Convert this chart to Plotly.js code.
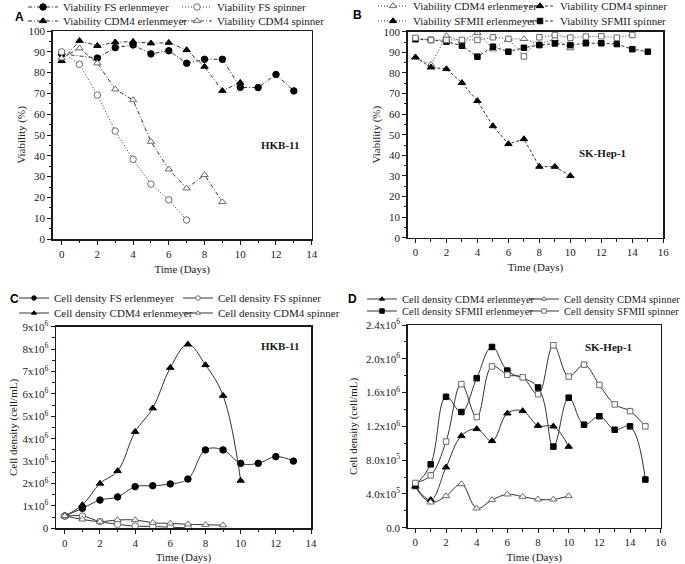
<!DOCTYPE html>
<html><head><meta charset="utf-8">
<script src="https://cdn.plot.ly/plotly-3.0.1.min.js"></script>
<style>body{margin:0;background:#fff}</style>
</head><body><div id="chart" style="width:685px;height:564px"></div>
<script>
// ---------- Panel A: viability HKB-11 ----------
const daysA_FSerl   = [0,2,3,4,5,6,7,8,9,10,11,12,13];
const vA_FSerl      = [89,87,92,93.3,89,90.5,84.5,86.4,86.4,72.9,72.8,79.1,71.2];
const daysA_FSspin  = [0,1,2,3,4,5,6,7];
const vA_FSspin     = [90,84,69.2,51.9,38.3,26.4,18.8,9.1];
const daysA_CDMerl  = [0,1,2,3,4,5,6,7,8,9,10];
const vA_CDMerl     = [85.6,95.3,92.9,94.6,94.9,94.1,94.4,90.9,82.9,71.3,75.2];
const daysA_CDMspin = [0,1,2,3,4,5,6,7,8,9];
const vA_CDMspin    = [86.9,91.7,84.5,72,66.8,46.8,33.5,24.4,30.8,17.8];

// ---------- Panel B: viability SK-Hep-1 ----------
const daysB_CDMerl  = [0,1,2,3,4,5,6,7,8,9,10];
const vB_CDMerl     = [87.5,84,98,95.5,99.5,91.5,96.5,96.5,94,96.5,92];
const daysB_CDMspin = [0,1,2,3,4,5,6,7,8,9,10];
const vB_CDMspin    = [87.6,82.7,81.9,75.2,66.4,54.2,45.5,47.9,34.5,34.5,30.0];
const daysB_SFerl   = [0,1,2,3,4,5,6,7,8,9,10,11,12,13,14];
const vB_SFerl      = [97,96,96,96,96,97.3,96.5,88,97.3,98.4,97.1,97.6,97.8,97.1,98.4];
const daysB_SFspin  = [0,1,2,3,4,5,6,7,8,9,10,11,12,13,14,15];
const vB_SFspin     = [96.3,96,95.2,93.2,87.9,92.7,90.3,92.2,93.5,94.3,93.5,94.4,94.4,94.0,91.5,90.3];

// ---------- Panel C: cell density HKB-11 (cells/mL) ----------
const daysC_FSerl   = [0,1,2,3,4,5,6,7,8,9,10,11,12,13];
const cC_FSerl      = [550000,890000,1260000,1400000,1860000,1900000,1980000,2200000,3500000,3500000,2900000,2900000,3200000,3000000];
const daysC_FSspin  = [0,1,2,3,4,5,6,7];
const cC_FSspin     = [550000,550000,300000,180000,100000,80000,50000,20000];
const daysC_CDMerl  = [0,1,2,3,4,5,6,7,8,9,10];
const cC_CDMerl     = [550000,1040000,2000000,2560000,4310000,5360000,7170000,8210000,7290000,5920000,2130000];
const daysC_CDMspin = [0,1,2,3,4,5,6,7,8,9];
const cC_CDMspin    = [550000,400000,300000,370000,370000,250000,220000,180000,160000,140000];

// ---------- Panel D: cell density SK-Hep-1 (cells/mL) ----------
const daysD_CDMerl  = [0,1,2,3,4,5,6,7,8,9,10];
const cD_CDMerl     = [490000,330000,715000,1086000,1169000,1027000,1354000,1382000,1208000,1200000,960000];
const daysD_CDMspin = [0,1,2,3,4,5,6,7,8,9,10];
const cD_CDMspin    = [480000,300000,375000,517000,230000,328000,395000,367000,336000,336000,375000];
const daysD_SFerl   = [0,1,2,3,4,5,6,8,9,10,11,12,13,14,15];
const cD_SFerl      = [500000,750000,1550000,1370000,1770000,2140000,1860000,1660000,960000,1540000,1220000,1320000,1160000,1200000,570000];
const daysD_SFspin  = [0,1,2,3,4,5,6,7,8,9,10,11,12,13,14,15];
const cD_SFspin     = [530000,620000,1020000,1700000,1310000,1910000,1810000,1780000,1580000,2160000,1790000,1930000,1690000,1460000,1380000,1200000];

// tick labels
const tickC_vals = [0,1e6,2e6,3e6,4e6,5e6,6e6,7e6,8e6,9e6];
const tickC_text = ['0','1x10<sup>6</sup>','2x10<sup>6</sup>','3x10<sup>6</sup>','4x10<sup>6</sup>','5x10<sup>6</sup>','6x10<sup>6</sup>','7x10<sup>6</sup>','8x10<sup>6</sup>','9x10<sup>6</sup>'];
const tickD_vals = [0,4e5,8e5,1.2e6,1.6e6,2.0e6,2.4e6];
const tickD_text = ['0.0','4.0x10<sup>5</sup>','8.0x10<sup>5</sup>','1.2x10<sup>6</sup>','1.6x10<sup>6</sup>','2.0x10<sup>6</sup>','2.4x10<sup>6</sup>'];

const W = 685, H = 564;
const serif = "'Liberation Serif', 'Times New Roman', serif";
const ink = '#1a1a1a';
function F(size, color) { return {family: serif, size: size || 11, color: color || ink}; }

function tr(x, y, n, name, sym, filled, dash, legend, spline, msize) {
  const s = n > 1 ? String(n) : '';
  return {
    x: x, y: y, xaxis: 'x' + s, yaxis: 'y' + s,
    name: name, legend: legend, mode: 'lines+markers', hoverinfo: 'skip',
    line: {color: '#333', width: 1, dash: dash, shape: spline ? 'spline' : 'linear', smoothing: 1.1},
    marker: {symbol: sym, size: msize || (sym === 'square' ? 5.5 : 6.5), color: filled ? '#000' : '#fff',
             line: {color: filled ? '#000' : '#6a6a6a', width: 1}}
  };
}
// data trace with its legend entry drawn by a separate legend-only trace
function dataOnly(t) { t.showlegend = false; return t; }
function legOnly(n, name, sym, filled, dash, legend) {
  return tr([null], [null], n, name, sym, filled, dash, legend, false, 4.5);
}
const DASH = '3px,2px', DOT = '1px,2px', DASHDOT = '4px,2px,1px,2px';

const data = [
  tr(daysA_FSerl, vA_FSerl, 1, 'Viability FS erlenmeyer', 'circle', true, DASHDOT, 'legend'),
  tr(daysA_FSspin, vA_FSspin, 1, 'Viability FS spinner', 'circle', false, DOT, 'legend2'),
  tr(daysA_CDMerl, vA_CDMerl, 1, 'Viability CDM4 erlenmeyer', 'triangle-up', true, DASHDOT, 'legend3'),
  tr(daysA_CDMspin, vA_CDMspin, 1, 'Viability CDM4 spinner', 'triangle-up', false, DASHDOT, 'legend4'),

  tr(daysB_CDMerl, vB_CDMerl, 2, 'Viability CDM4 erlenmeyer', 'triangle-up', false, DOT, 'legend5'),
  tr(daysB_CDMspin, vB_CDMspin, 2, 'Viability CDM4 spinner', 'triangle-up', true, DASH, 'legend6'),
  tr([null], [null], 2, 'Viability SFMII erlenmeyer', 'triangle-up', true, DOT, 'legend7'),
  tr(daysB_SFspin, vB_SFspin, 2, 'Viability SFMII spinner', 'square', true, DASH, 'legend8'),
  dataOnly(tr(daysB_SFerl, vB_SFerl, 2, 'Viability SFMII erlenmeyer', 'square', false, DOT, 'legend7')),

  dataOnly(tr(daysC_FSerl, cC_FSerl, 3, 'Cell density FS erlenmeyer', 'circle', true, 'solid', 'legend9', true)),
  dataOnly(tr(daysC_FSspin, cC_FSspin, 3, 'Cell density FS spinner', 'circle', false, 'solid', 'legend10', true)),
  dataOnly(tr(daysC_CDMerl, cC_CDMerl, 3, 'Cell density CDM4 erlenmeyer', 'triangle-up', true, 'solid', 'legend11', true)),
  dataOnly(tr(daysC_CDMspin, cC_CDMspin, 3, 'Cell density CDM4 spinner', 'triangle-up', false, 'solid', 'legend12', true)),
  legOnly(3, 'Cell density FS erlenmeyer', 'circle', true, 'solid', 'legend9'),
  legOnly(3, 'Cell density FS spinner', 'circle', false, 'solid', 'legend10'),
  legOnly(3, 'Cell density CDM4 erlenmeyer', 'triangle-up', true, 'solid', 'legend11'),
  legOnly(3, 'Cell density CDM4 spinner', 'triangle-up', false, 'solid', 'legend12'),

  dataOnly(tr(daysD_CDMerl, cD_CDMerl, 4, 'Cell density CDM4 erlenmeyer', 'triangle-up', true, 'solid', 'legend13', true)),
  dataOnly(tr(daysD_CDMspin, cD_CDMspin, 4, 'Cell density CDM4 spinner', 'triangle-up', false, 'solid', 'legend14', true)),
  dataOnly(tr(daysD_SFerl, cD_SFerl, 4, 'Cell density SFMII erlenmeyer', 'square', true, 'solid', 'legend15', true)),
  dataOnly(tr(daysD_SFspin, cD_SFspin, 4, 'Cell density SFMII spinner', 'square', false, 'solid', 'legend16', true)),
  legOnly(4, 'Cell density CDM4 erlenmeyer', 'triangle-up', true, 'solid', 'legend13'),
  legOnly(4, 'Cell density CDM4 spinner', 'triangle-up', false, 'solid', 'legend14'),
  legOnly(4, 'Cell density SFMII erlenmeyer', 'square', true, 'solid', 'legend15'),
  legOnly(4, 'Cell density SFMII spinner', 'square', false, 'solid', 'legend16')
];

function xax(px, range, anchor, title) {
  return {
    domain: [px[0] / W, px[1] / W], range: range, anchor: anchor, tick0: 0, dtick: 2,
    ticks: 'outside', ticklen: 4, tickwidth: 1, tickcolor: ink,
    minor: {ticks: 'outside', dtick: 1, ticklen: 2.5, tickwidth: 1, tickcolor: ink},
    showline: true, mirror: true, linewidth: 1.5, linecolor: ink,
    showgrid: false, zeroline: false, tickfont: F(11), automargin: false,
    title: {text: title, font: F(11), standoff: 6}
  };
}
function yax(py, range, anchor, opts, title, standoff) {
  return Object.assign({
    domain: [1 - py[1] / H, 1 - py[0] / H], range: range, anchor: anchor,
    ticks: 'outside', ticklen: 4, tickwidth: 1, tickcolor: ink,
    showline: true, mirror: true, linewidth: 1.5, linecolor: ink,
    showgrid: false, zeroline: false, tickfont: F(11), automargin: false,
    title: {text: title, font: F(11), standoff: standoff}
  }, opts);
}
function topax(over, anchor, range) {
  return {
    overlaying: over, side: 'top', anchor: anchor,
    range: range, tick0: 0, dtick: 2, ticks: 'inside', ticklen: 4, tickwidth: 1, tickcolor: ink,
    minor: {ticks: 'inside', dtick: 1, ticklen: 2.5, tickwidth: 1, tickcolor: ink},
    showticklabels: false, showgrid: false, zeroline: false, showline: false
  };
}

const pA = {x: [52.7, 311.7], y: [31, 239]};
const pB = {x: [407.7, 663.3], y: [31.7, 237.7]};
const pC = {x: [56, 311], y: [326.7, 528.3]};
const pD = {x: [407.7, 660.7], y: [325, 527.7]};

// legend: text start x (px), row centre y (px)
function leg(textX, ypx, fs) {
  return {x: (textX - 40) / W, y: 1 - ypx / H, xanchor: 'left', yanchor: 'middle', orientation: 'h',
          itemwidth: 30, bgcolor: 'rgba(0,0,0,0)', borderwidth: 0,
          font: F(fs || 11), tracegroupgap: 0, itemclick: false};
}
const minorY = (d) => ({ticks: 'outside', dtick: d, ticklen: 2.5, tickwidth: 1, tickcolor: ink});

const layout = {
  width: W, height: H, margin: {l: 0, r: 0, t: 0, b: 0, autoexpand: false},
  font: F(11), paper_bgcolor: '#fff', plot_bgcolor: '#fff', showlegend: true,
  xaxis: xax(pA.x, [-0.5, 14], 'y', 'Time (Days)'),
  yaxis: yax(pA.y, [0, 100], 'x', {dtick: 10, tick0: 0, minor: minorY(5)}, 'Viability (%)', 0),
  xaxis2: xax(pB.x, [-0.5, 16], 'y2', 'Time (Days)'),
  yaxis2: yax(pB.y, [0, 100], 'x2', {dtick: 10, tick0: 0, minor: minorY(5)}, 'Viability (%)', 0),
  xaxis3: xax(pC.x, [-0.5, 14], 'y3', 'Time (Days)'),
  yaxis3: yax(pC.y, [0, 9e6], 'x3', {tickvals: tickC_vals, ticktext: tickC_text, tickmode: 'array', minor: minorY(5e5)}, 'Cell density (cell/mL)', 2),
  xaxis4: xax(pD.x, [-0.5, 16], 'y4', 'Time (Days)'),
  yaxis4: yax(pD.y, [0, 2.4e6], 'x4', {tickvals: tickD_vals, ticktext: tickD_text, tickmode: 'array', minor: minorY(2e5)}, 'Cell density (cell/mL)', 6),
  xaxis5: topax('x', 'y', [-0.5, 14]),
  xaxis6: topax('x2', 'y2', [-0.5, 16]),
  xaxis7: topax('x3', 'y3', [-0.5, 14]),
  xaxis8: topax('x4', 'y4', [-0.5, 16]),
  legend: leg(63, 7),  legend2: leg(217, 7),  legend3: leg(63, 21),  legend4: leg(217, 21),
  legend5: leg(413, 6), legend6: leg(560, 6), legend7: leg(413, 21), legend8: leg(560, 21),
  legend9: leg(54, 298), legend10: leg(218, 298), legend11: leg(54, 313), legend12: leg(218, 313),
  legend13: leg(402, 299, 10.5), legend14: leg(564, 299, 10.5), legend15: leg(402, 311, 10.5), legend16: leg(564, 311, 10.5),
  annotations: [
    {text: '<b>A</b>', x: 13 / W, y: 1 - 8 / H, xref: 'paper', yref: 'paper', showarrow: false, font: {family: 'Liberation Sans, Arial, sans-serif', size: 12, color: '#000'}},
    {text: '<b>B</b>', x: 357 / W, y: 1 - 6 / H, xref: 'paper', yref: 'paper', showarrow: false, font: {family: 'Liberation Sans, Arial, sans-serif', size: 12, color: '#000'}},
    {text: '<b>C</b>', x: 8 / W, y: 1 - 299 / H, xref: 'paper', yref: 'paper', showarrow: false, font: {family: 'Liberation Sans, Arial, sans-serif', size: 12, color: '#000'}},
    {text: '<b>D</b>', x: 353 / W, y: 1 - 299 / H, xref: 'paper', yref: 'paper', showarrow: false, font: {family: 'Liberation Sans, Arial, sans-serif', size: 12, color: '#000'}},
    {text: '<b>HKB-11</b>', x: 280 / W, y: 1 - 137 / H, xref: 'paper', yref: 'paper', showarrow: false, font: F(11)},
    {text: '<b>SK-Hep-1</b>', x: 628 / W, y: 1 - 145 / H, xref: 'paper', yref: 'paper', showarrow: false, font: F(11)},
    {text: '<b>HKB-11</b>', x: 280 / W, y: 1 - 346 / H, xref: 'paper', yref: 'paper', showarrow: false, font: F(11)},
    {text: '<b>SK-Hep-1</b>', x: 634 / W, y: 1 - 347 / H, xref: 'paper', yref: 'paper', showarrow: false, font: F(11)}
  ]
};

Plotly.newPlot('chart', data, layout, {staticPlot: true, displayModeBar: false});
</script>
</body></html>
